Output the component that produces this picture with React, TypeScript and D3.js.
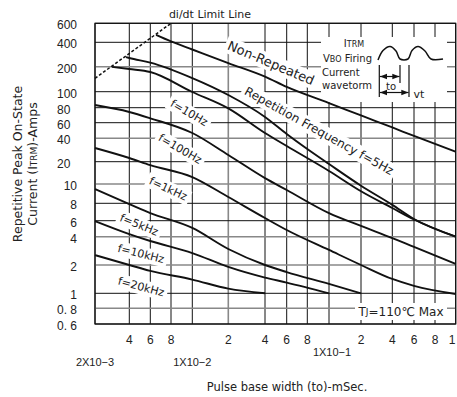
import React, { useEffect, useRef } from 'react'
import * as d3 from 'd3'

const width = 457, height = 397

// grid / tick values (pulse width in mSec, current in A)
const xTicks = [2e-3, 4e-3, 6e-3, 8e-3, 1e-2, 2e-2, 4e-2, 6e-2, 8e-2, 1e-1, 2e-1, 4e-1, 6e-1, 8e-1, 1]
const xTickLabels = ["", "4", "6", "8", "", "2", "4", "6", "8", "", "2", "4", "6", "8", "1"]
const yTicks = [0.6, 0.8, 1, 2, 4, 6, 8, 10, 20, 40, 60, 80, 100, 200, 400, 600]
const yTickLabels = ["0. 6", "0. 8", "1", "2", "4", "6", "8", "10", "20", "40", "60", "80", "100", "200", "400", "600"]
const decadeValues = [2e-3, 1e-2, 1e-1]
const decadeLabels = ["2X10\u22123", "1X10\u22122", "1X10\u22121"]

// di/dt limit line
const didtX = [2e-3, 8e-3]
const didtY = [145, 600]

// curves
const nonRepeatedX = [6.5e-3, 8e-3, 1e-2, 2e-2, 4e-2, 6e-2, 1e-1, 2e-1, 4e-1, 6e-1, 1]
const nonRepeatedY = [468, 407, 326, 222, 152, 114, 85.4, 68.9, 53, 42.5, 26.9]
const f5HzX = [3.74e-3, 4e-3, 6e-3, 1e-2, 2e-2, 4e-2, 6e-2, 8e-2, 1e-1, 2e-1, 4e-1, 6e-1, 1]
const f5HzY = [263, 256, 225, 146, 95.5, 67, 44.7, 29.1, 18.6, 9.8, 7.8, 6.17, 4]
const f10HzX = [2.82e-3, 4e-3, 6e-3, 1e-2, 2e-2, 4e-2, 6e-2, 1e-1, 2e-1, 4e-1, 6e-1, 1]
const f10HzY = [199, 187.6, 172.7, 99.6, 79, 45.9, 31.8, 15, 9.2, 7.4, 6.12, 4]
const fullX = [2e-3, 4e-3, 6e-3, 1e-2, 2e-2, 4e-2, 6e-2, 1e-1, 2e-1, 4e-1, 6e-1, 1]
const f100HzY = [83, 73.7, 65.3, 45.9, 24.4, 12, 9.33, 6.8, 5.25, 3.87, 3.11, 2.05]
const f1kHzY = [30, 22.3, 18, 12.4, 8.6, 6.27, 4.74, 2.89, 2, 1.42, 1.2, 0.99]
const f5kHzX = [2e-3, 4e-3, 6e-3, 1e-2, 2e-2, 4e-2, 6e-2, 1e-1, 2e-1]
const f5kHzY = [9.43, 7.9, 6.81, 4.99, 2.96, 2, 1.68, 1.26, 1]
const f10kHzX = [2e-3, 4e-3, 6e-3, 1e-2, 2e-2, 4e-2, 6e-2, 1e-1]
const f10kHzY = [5.95, 4.28, 3.6, 2.68, 1.91, 1.47, 1.3, 1]
const f20kHzX = [2e-3, 4e-3, 6e-3, 1e-2, 2e-2, 4e-2]
const f20kHzY = [2.55, 2, 1.73, 1.4, 1.12, 1]

const series = [
    { x: nonRepeatedX, y: nonRepeatedY },
    { x: f5HzX, y: f5HzY },
    { x: f10HzX, y: f10HzY },
    { x: fullX, y: f100HzY },
    { x: fullX, y: f1kHzY },
    { x: f5kHzX, y: f5kHzY },
    { x: f10kHzX, y: f10kHzY },
    { x: f20kHzX, y: f20kHzY },
]

const grayY = [200, 40, 10, 4, 2, 0.8]
const grayX = [2e-2]

const FONT = "'DejaVu Sans', sans-serif"
const NUMFONT = "'Liberation Sans', Arial, sans-serif"

export default function App() {
    const ref = useRef<SVGSVGElement>(null)

    useEffect(() => {
        const svg = d3.select(ref.current)
        svg.selectAll("*").remove()

        // the original sheet's grid is not evenly logarithmic, so map each grid line
        const x = d3.scaleLog()
            .domain(xTicks)
            .range([95, 129.3, 150.3, 171, 192.3, 228.3, 265, 286.7, 307.3, 329, 361, 392.3, 414, 435, 455.7])
        const y = d3.scaleLog()
            .domain(yTicks)
            .range([324, 308.3, 293.3, 265, 236.7, 220.7, 203.3, 184, 161.7, 138.3, 122.7, 107.7, 91.7, 66.7, 42.3, 23.3])

        const x0 = x(2e-3), x1 = x(1), y0 = y(0.6), y1 = y(600)

        const gGrid = svg.append("g")
        const gBox = svg.append("g")
        const gCurve = svg.append("g")
        const gText = svg.append("g")

        gGrid.selectAll("line.v").data(xTicks).join("line")
            .attr("x1", d => x(d)).attr("x2", d => x(d))
            .attr("y1", y1).attr("y2", y0)
            .attr("stroke", d => grayX.includes(d) ? "#888" : "#111")
            .attr("stroke-width", d => grayX.includes(d) ? 1.6 : 1)
        gGrid.selectAll("line.h").data(yTicks).join("line")
            .attr("x1", x0).attr("x2", x1)
            .attr("y1", d => y(d)).attr("y2", d => y(d))
            .attr("stroke", d => grayY.includes(d) ? "#888" : "#111")
            .attr("stroke-width", d => grayY.includes(d) ? 1.6 : 1)
        gGrid.append("rect")
            .attr("x", x0).attr("y", y1).attr("width", x1 - x0).attr("height", y0 - y1)
            .attr("fill", "none").attr("stroke", "#111").attr("stroke-width", 1.2)

        // white inset boxes that break the grid
        gBox.append("rect").attr("x", 321).attr("y", 37).attr("width", 126).attr("height", 65).attr("fill", "#fff")
        gBox.append("rect").attr("x", 355).attr("y", 303).attr("width", 92).attr("height", 17).attr("fill", "#fff")

        const line = d3.line<[number, number]>()
            .x(d => x(d[0])).y(d => y(d[1]))
            .curve(d3.curveMonotoneX)

        gCurve.selectAll("path.c").data(series).join("path")
            .attr("d", s => line(s.x.map((v, i) => [v, s.y[i]] as [number, number])))
            .attr("fill", "none").attr("stroke", "#111").attr("stroke-width", 1.9)

        gCurve.append("line")
            .attr("x1", x(didtX[0])).attr("y1", y(didtY[0]))
            .attr("x2", x(didtX[1])).attr("y2", y(didtY[1]))
            .attr("stroke", "#111").attr("stroke-width", 1.5).attr("stroke-dasharray", "3,2")

        const label = (text: string, cx: number, cy: number, angle: number, size: number) => {
            const t = gText.append("text")
                .attr("transform", `translate(${cx},${cy}) rotate(${angle})`)
                .attr("text-anchor", "middle").attr("dominant-baseline", "central")
                .attr("font-family", FONT).attr("font-size", size).attr("fill", "#222")
                .text(text)
            const b = (t.node() as SVGTextElement).getBBox()
            gBox.append("rect")
                .attr("transform", `translate(${cx},${cy}) rotate(${angle})`)
                .attr("x", b.x - 3).attr("y", b.y - 1).attr("width", b.width + 6).attr("height", b.height + 2)
                .attr("fill", "#fff")
        }

        label("Non-Repeated", 271, 63, 23, 13)
        label("Repetition Frequency f=5Hz", 319, 131, 29, 12)
        label("f=10Hz", 189, 113, 30, 11)
        label("f=100Hz", 180, 149, 30, 11)
        label("f=1kHz", 168, 189, 25, 11)
        label("f=5kHz", 139, 225, 22, 11)
        label("f=10kHz", 141, 254, 14, 11)
        label("f=20kHz", 141, 287, 15, 11)

        // axes labels
        gText.selectAll("text.yt").data(yTicks).join("text")
            .attr("x", d => [80, 60, 40, 20].includes(d) ? 57 : 77)
            .attr("y", d => y(d) + 2)
            .attr("text-anchor", d => [80, 60, 40, 20].includes(d) ? "start" : "end")
            .attr("dominant-baseline", "central")
            .attr("font-family", NUMFONT).attr("font-size", 12).attr("fill", "#222")
            .text((d, i) => yTickLabels[i])

        gText.selectAll("text.xt").data(xTicks).join("text")
            .attr("x", d => Math.min(x(d), 452)).attr("y", 340)
            .attr("text-anchor", "middle").attr("dominant-baseline", "central")
            .attr("font-family", NUMFONT).attr("font-size", 12).attr("fill", "#222")
            .text((d, i) => xTickLabels[i])

        gText.selectAll("text.dec").data(decadeValues).join("text")
            .attr("x", (d, i) => x(d) + (i === 2 ? 3 : 0))
            .attr("y", (d, i) => i === 2 ? 352 : 362)
            .attr("text-anchor", "middle").attr("dominant-baseline", "central")
            .attr("font-family", NUMFONT).attr("font-size", 11).attr("fill", "#222")
            .text((d, i) => decadeLabels[i])

        gText.append("text")
            .attr("x", 287).attr("y", 387)
            .attr("text-anchor", "middle").attr("dominant-baseline", "central")
            .attr("font-family", FONT).attr("font-size", 11.5).attr("fill", "#222")
            .text("Pulse base width (to)-mSec.")

        gText.append("text")
            .attr("x", 210).attr("y", 14)
            .attr("text-anchor", "middle").attr("dominant-baseline", "central")
            .attr("font-family", FONT).attr("font-size", 11).attr("fill", "#222")
            .text("di/dt Limit Line")

        const yt = gText.append("text")
            .attr("transform", "translate(22,164) rotate(-90)")
            .attr("text-anchor", "middle")
            .attr("font-family", FONT).attr("font-size", 12.5).attr("fill", "#222")
        yt.append("tspan").attr("x", 0).attr("dy", 0).text("Repetitive Peak On-State")
        const l2 = yt.append("tspan").attr("x", 0).attr("dy", 15)
        l2.append("tspan").text("Current (I")
        l2.append("tspan").attr("font-size", 9).text("TRM")
        l2.append("tspan").text(")-Amps")

        const tj = gText.append("text")
            .attr("x", 401).attr("y", 312)
            .attr("text-anchor", "middle").attr("dominant-baseline", "central")
            .attr("font-family", FONT).attr("font-size", 12).attr("fill", "#222")
        tj.append("tspan").text("T")
        tj.append("tspan").attr("font-size", 9).text("J")
        tj.append("tspan").text("=110\u2103 Max")

        // waveform inset
        const it = gText.append("text").attr("x", 354).attr("y", 47)
            .attr("text-anchor", "middle").attr("font-family", FONT).attr("font-size", 10).attr("fill", "#222")
        it.append("tspan").text("I")
        it.append("tspan").attr("font-size", 8).text("TRM")
        const vb = gText.append("text").attr("x", 323).attr("y", 62)
            .attr("font-family", FONT).attr("font-size", 10).attr("fill", "#222")
        vb.append("tspan").text("V")
        vb.append("tspan").attr("font-size", 8).text("BO")
        vb.append("tspan").text(" Firing")
        gText.append("text").attr("x", 322).attr("y", 76)
            .attr("font-family", FONT).attr("font-size", 10).attr("fill", "#222").text("Current")
        gText.append("text").attr("x", 322).attr("y", 89)
            .attr("font-family", FONT).attr("font-size", 10).attr("fill", "#222").text("wavetorm")

        const wave: [number, number][] = [[378, 60], [383, 50.5], [390, 46.5], [396, 51], [400, 59], [408, 59], [412, 50.5], [418, 46.5], [425, 51], [431, 59], [443, 59]]
        gText.append("path")
            .attr("d", d3.line().curve(d3.curveCatmullRom)(wave))
            .attr("fill", "none").attr("stroke", "#111").attr("stroke-width", 1.5)

        const defs = svg.append("defs")
        const mk = (id: string, orient: string) => defs.append("marker").attr("id", id)
            .attr("viewBox", "0 0 8 8").attr("refX", 8).attr("refY", 4)
            .attr("markerWidth", 6).attr("markerHeight", 6).attr("orient", orient)
            .append("path").attr("d", "M0,1 L8,4 L0,7 Z").attr("fill", "#111")
        mk("arr", "auto")
        mk("arrs", "auto-start-reverse")

        const vticks: [number, number, number][] = [[379.3, 65, 97], [400, 65, 83], [409, 65, 97]]
        vticks.forEach(([vx, a, b]) => gText.append("line")
            .attr("x1", vx).attr("x2", vx).attr("y1", a).attr("y2", b)
            .attr("stroke", "#111").attr("stroke-width", 1.2))
        const arrows: [number, number, number][] = [[379.8, 399.5, 76.5], [379.8, 408.5, 92.5]]
        arrows.forEach(([a, b, yy]) => gText.append("line")
            .attr("x1", a).attr("x2", b).attr("y1", yy).attr("y2", yy)
            .attr("stroke", "#111").attr("stroke-width", 1.2)
            .attr("marker-end", "url(#arr)").attr("marker-start", "url(#arrs)"))
        gText.append("text").attr("x", 391).attr("y", 86).attr("text-anchor", "middle")
            .attr("dominant-baseline", "central")
            .attr("font-family", FONT).attr("font-size", 10).attr("fill", "#222").text("to")
        gText.append("text").attr("x", 419).attr("y", 94).attr("text-anchor", "middle")
            .attr("dominant-baseline", "central")
            .attr("font-family", FONT).attr("font-size", 11).attr("fill", "#222").text("vt")
    }, [])

    return (
        <svg ref={ref} width={width} height={height}
            style={{ position: "absolute", left: 0, top: 0, background: "#fff" }} />
    )
}
